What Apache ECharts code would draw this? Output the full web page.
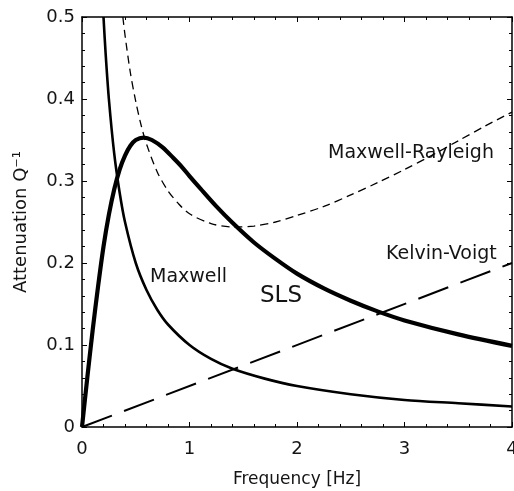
<!DOCTYPE html>
<html>
<head>
<meta charset="utf-8">
<script src="https://cdn.jsdelivr.net/npm/echarts@6/dist/echarts.min.js"></script>
<style>
html,body{margin:0;padding:0;background:#fff;width:100%;height:100%;overflow:hidden;}
#chart{width:100%;height:100%;}
</style>
</head>
<body>
<div id="chart"></div>
<script>
// ---- Data ----
const freqSLS = [0, 0.05, 0.1, 0.15, 0.2, 0.25, 0.3, 0.35, 0.4, 0.45, 0.5, 0.574, 0.65, 0.75, 0.85, 0.93, 1.0, 1.1, 1.25, 1.4, 1.6, 1.8, 2.0, 2.25, 2.5, 2.75, 3.0, 3.5, 4.0];
const valSLS  = [0, 0.061, 0.119, 0.172, 0.22, 0.259, 0.29, 0.314, 0.331, 0.343, 0.35, 0.353, 0.35, 0.341, 0.328, 0.317, 0.306, 0.291, 0.269, 0.249, 0.225, 0.205, 0.187, 0.169, 0.154, 0.141, 0.13, 0.113, 0.099];

const freqMaxwell = [0.2, 0.22, 0.25, 0.3, 0.35, 0.4, 0.5, 0.6, 0.7, 0.8, 1.0, 1.2, 1.4, 1.7, 2.0, 2.5, 3.0, 3.5, 4.0];
const valMaxwell  = [0.5, 0.455, 0.4, 0.333, 0.286, 0.25, 0.2, 0.167, 0.143, 0.125, 0.1, 0.083, 0.071, 0.059, 0.05, 0.04, 0.033, 0.029, 0.025];

const freqMR = [0.38, 0.4, 0.45, 0.5, 0.55, 0.6, 0.7, 0.8, 0.9, 1.0, 1.2, 1.4, 1.6, 1.8, 2.0, 2.25, 2.5, 2.75, 3.0, 3.25, 3.5, 3.75, 4.0];
const valMR  = [0.5, 0.478, 0.432, 0.397, 0.368, 0.345, 0.311, 0.288, 0.272, 0.26, 0.248, 0.244, 0.245, 0.25, 0.258, 0.269, 0.283, 0.298, 0.314, 0.331, 0.349, 0.367, 0.384];

const freqKV = [0, 4];
const valKV  = [0, 0.2];

const xTicks = [0, 1, 2, 3, 4];
const yTicks = [0, 0.1, 0.2, 0.3, 0.4, 0.5];

const labelTexts = ['Maxwell-Rayleigh', 'Kelvin-Voigt', 'Maxwell', 'SLS'];
const xName = 'Frequency [Hz]';
const yName = 'Attenuation Q\u207B\u00B9';

function pairs(xs, ys){ return xs.map((x,i)=>[x, ys[i]]); }

const FONT = 'DejaVu Sans';
const TXT = '#141414';

const baseAxis = {
  min: 0,
  axisLine: {show: true, onZero: false, lineStyle: {color: '#000', width: 1.5}},
  axisTick: {show: true, inside: true, length: 5, lineStyle: {color: '#000', width: 1}},
  minorTick: {show: true, splitNumber: 5, length: 3, lineStyle: {color: '#000', width: 1}},
  splitLine: {show: false},
  minorSplitLine: {show: false}
};

const chart = echarts.init(document.getElementById('chart'), null, {renderer: 'canvas'});
chart.setOption({
  animation: false,
  backgroundColor: '#fff',
  grid: {left: 82, right: 2, top: 17, bottom: 64, containLabel: false, outerBoundsMode: 'none'},
  xAxis: [
    Object.assign({}, baseAxis, {
      type: 'value', position: 'bottom', max: xTicks[xTicks.length-1], interval: 1,
      name: xName, nameLocation: 'middle', nameGap: 44,
      nameTextStyle: {fontFamily: FONT, fontSize: 17, color: TXT},
      axisLabel: {show: true, margin: 13, fontFamily: FONT, fontSize: 18, color: TXT,
        hideOverlap: false, formatter: v => String(v)}
    }),
    Object.assign({}, baseAxis, {
      type: 'value', position: 'top', max: 4, interval: 1,
      axisLabel: {show: false}
    })
  ],
  yAxis: [
    Object.assign({}, baseAxis, {
      type: 'value', position: 'left', max: yTicks[yTicks.length-1], interval: 0.1,
      name: yName, nameLocation: 'middle', nameGap: 52,
      nameTextStyle: {fontFamily: FONT, fontSize: 18, color: TXT},
      axisLabel: {show: true, margin: 7, fontFamily: FONT, fontSize: 18, color: TXT,
        padding: [6, 0, 0, 0],
        formatter: v => String(Math.round(v*10)/10)}
    }),
    Object.assign({}, baseAxis, {
      type: 'value', position: 'right', max: 0.5, interval: 0.1,
      axisLabel: {show: false}
    })
  ],
  series: [
    {
      name: 'Maxwell-Rayleigh', type: 'line', data: pairs(freqMR, valMR),
      smooth: 0.3, showSymbol: false, clip: true,
      lineStyle: {color: '#000', width: 1.3, type: [8, 5]}
    },
    {
      name: 'Kelvin-Voigt', type: 'line', data: pairs(freqKV, valKV),
      showSymbol: false, clip: true,
      lineStyle: {color: '#000', width: 2, type: [32, 13]}
    },
    {
      name: 'Maxwell', type: 'line', data: pairs(freqMaxwell, valMaxwell),
      smooth: 0.3, showSymbol: false, clip: true,
      lineStyle: {color: '#000', width: 2.6}
    },
    {
      name: 'SLS', type: 'line', data: pairs(freqSLS, valSLS),
      smooth: 0.3, showSymbol: false, clip: true,
      lineStyle: {color: '#000', width: 4.2}
    }
  ],
  graphic: [
    {type: 'text', x: 328, y: 153, style: {text: labelTexts[0], font: '19px "DejaVu Sans"', fill: TXT, textVerticalAlign: 'middle'}},
    {type: 'text', x: 386, y: 254.5, style: {text: labelTexts[1], font: '19px "DejaVu Sans"', fill: TXT, textVerticalAlign: 'middle'}},
    {type: 'text', x: 150, y: 277.5, style: {text: labelTexts[2], font: '19px "DejaVu Sans"', fill: TXT, textVerticalAlign: 'middle'}},
    {type: 'text', x: 260, y: 296, style: {text: labelTexts[3], font: '23px "DejaVu Sans"', fill: TXT, textVerticalAlign: 'middle'}}
  ]
});
</script>
</body>
</html>
